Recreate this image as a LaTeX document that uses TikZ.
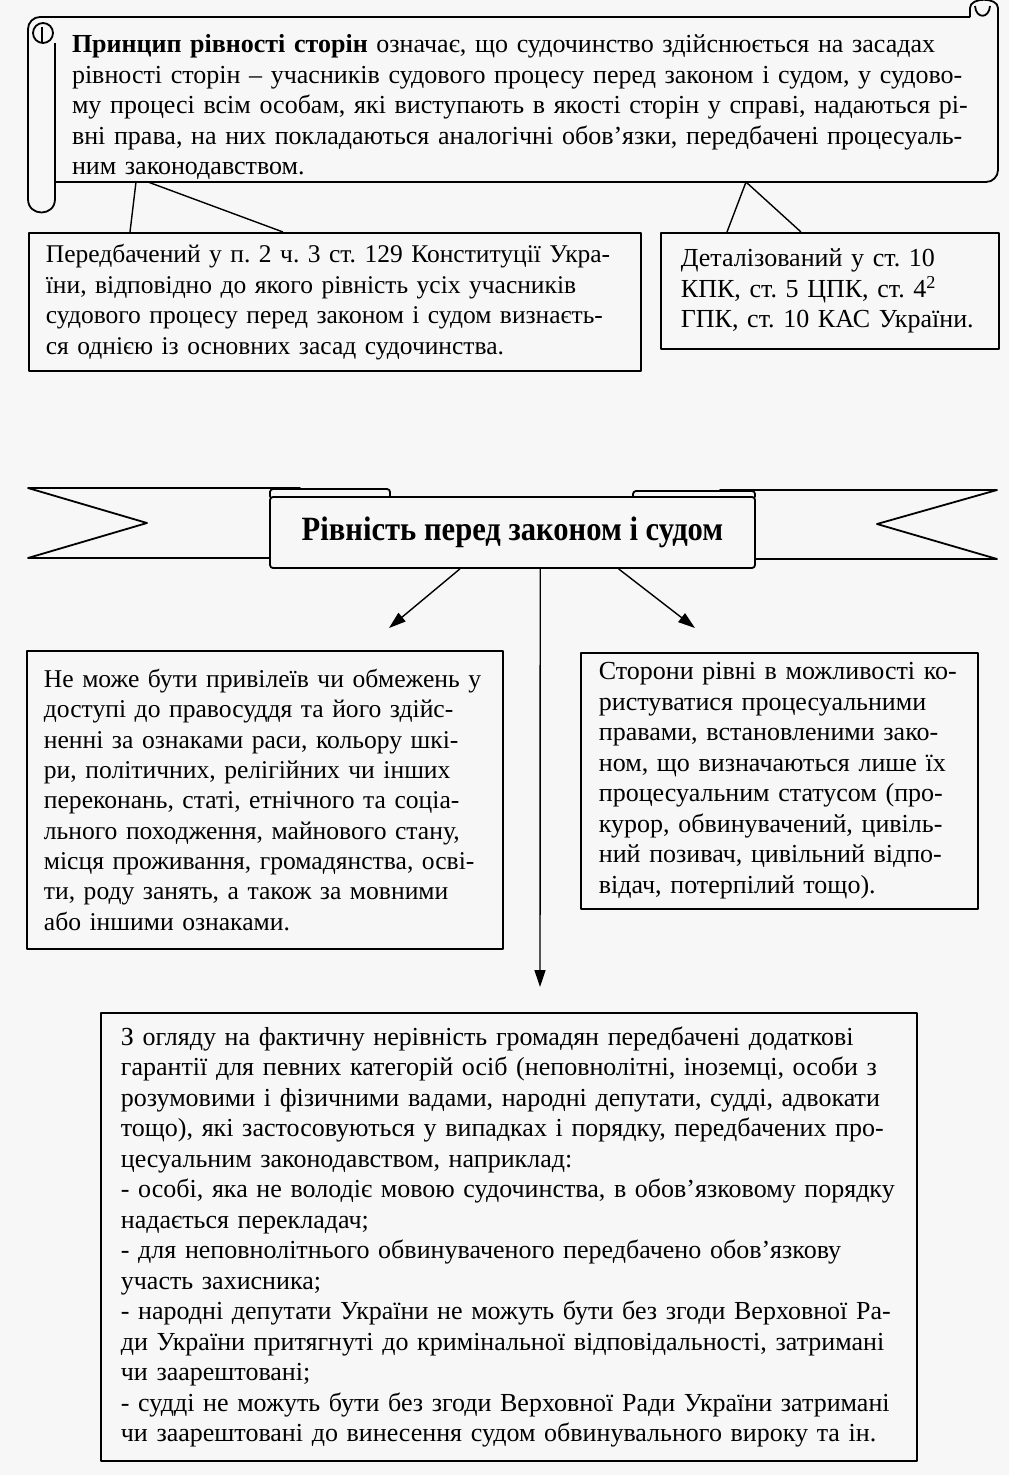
\documentclass[tikz,border=0pt]{standalone}
\usepackage{fontspec}
\setmainfont{Liberation Serif}
\newfontfamily\narrowserif[FakeStretch=0.9]{Liberation Serif}
\usetikzlibrary{arrows.meta,positioning,calc}
\definecolor{paper}{HTML}{F7F7F7}
\frenchspacing

\tikzset{
  frame/.style={draw, line width=1.8pt, line join=round},
  textbox/.style={frame, fill=paper, anchor=north west, align=left, inner ysep=0pt,
    font=\fontsize{26}{30.5}\selectfont},
  leg/.style={line width=1.4pt},
  arrow/.style={line width=1.4pt, -{Triangle[length=17pt,width=11pt]}},
}

\begin{document}
\begin{tikzpicture}[x=1pt,y=-1pt]
  \fill[paper] (0,0) rectangle (1009,1475);
  \useasboundingbox (0,0) rectangle (1009,1475);

  % scroll
  \draw[frame, rounded corners=12pt] (28,199) -- (28,17) -- (970,17);
  \draw[frame] (28,199) .. controls (28,217) and (55,217) .. (55,199) -- (55,43);
  \draw[frame] (43,33) circle (10pt);
  \draw[frame] (42,27) -- (42,43);
  \draw[frame, rounded corners=12pt] (55,182) -- (998,182) -- (998,8);
  \draw[frame] (970,17) -- (970,8) .. controls (970,-3) and (998,-3) .. (998,8);
  \draw[frame] (975,6) .. controls (976,19) and (989,19) .. (990,6);
  \node[align=left, text width=900pt, inner sep=0pt, font=\fontsize{26}{30.5}\selectfont]
    (principle) at (522,107) {%
    \textbf{Принцип рівності сторін} означає, що судочинство здійснюється на засадах\\
    рівності сторін – учасників судового процесу перед законом і судом, у судово-\\
    му процесі всім особам, які виступають в якості сторін у справі, надаються рі-\\
    вні права, на них покладаються аналогічні обов’язки, передбачені процесуаль-\\
    ним законодавством.};

  % callouts
  \node[textbox, minimum width=612pt, minimum height=138pt, inner xsep=17pt, text width=578pt,
    font=\fontsize{25.5}{30.5}\selectfont]
    (constitution) at (28,232) {%
    Передбачений у п. 2 ч. 3 ст. 129 Конституції Укра-\\
    їни, відповідно до якого рівність усіх учасників\\
    судового процесу перед законом і судом визнаєть-\\
    ся однією із основних засад судочинства.};
  \node[textbox, minimum width=338pt, minimum height=116pt, inner xsep=20pt, text width=298pt]
    (codes) at (660,232) {%
    Деталізований у ст. 10\\
    КПК, ст. 5 ЦПК, ст. 4\textsuperscript{2}\\
    ГПК, ст. 10 КАС України.};

  \coordinate (s1) at (136,182);
  \coordinate (s2) at (148,182);
  \coordinate (s3) at (746,182);
  \coordinate (c1) at (130,232);
  \coordinate (c2) at (283,232);
  \coordinate (c3) at (727,232);
  \coordinate (c4) at (801,232);
  \draw[leg] (s1) -- (c1);
  \draw[leg] (s2) -- (c2);
  \draw[leg] (c3) -- (s3) -- (c4);

  % ribbon
  \draw[frame, fill=paper] (28,488) -- (300,488) -- (300,558) -- (28,558) -- (147,523) -- cycle;
  \draw[frame, fill=paper] (997,490) -- (720,490) -- (720,559) -- (997,559) -- (877,524) -- cycle;
  \draw[frame, fill=paper, rounded corners=3pt] (270,489) rectangle (390,499);
  \draw[frame, fill=paper, rounded corners=3pt] (633,491) rectangle (755,499);
  \node[frame, fill=paper, rounded corners=3pt, minimum width=485pt, minimum height=71pt,
    font=\narrowserif\fontsize{34}{38}\selectfont\bfseries]
    (equality) at (512.5,532.5) {Рівність перед законом і судом};

  % consequences
  \node[textbox, minimum width=476pt, minimum height=298pt, inner xsep=17pt, text width=442pt,
    font=\fontsize{25.6}{30.3}\selectfont]
    (access) at (26,650) {%
    Не може бути привілеїв чи обмежень у\\
    доступі до правосуддя та його здійс-\\
    ненні за ознаками раси, кольору шкі-\\
    ри, політичних, релігійних чи інших\\
    переконань, статі, етнічного та соціа-\\
    льного походження, майнового стану,\\
    місця проживання, громадянства, осві-\\
    ти, роду занять, а також за мовними\\
    або іншими ознаками.};
  \node[textbox, minimum width=397pt, minimum height=256pt, inner xsep=18pt, text width=361pt]
    (parties) at (580,652) {%
    Сторони рівні в можливості ко-\\
    ристуватися процесуальними\\
    правами, встановленими зако-\\
    ном, що визначаються лише їх\\
    процесуальним статусом (про-\\
    курор, обвинувачений, цивіль-\\
    ний позивач, цивільний відпо-\\
    відач, потерпілий тощо).};
  \node[textbox, minimum width=816pt, minimum height=448pt, inner xsep=20pt, text width=776pt]
    (guarantees) at (100,1012) {%
    З огляду на фактичну нерівність громадян передбачені додаткові\\
    гарантії для певних категорій осіб (неповнолітні, іноземці, особи з\\
    розумовими і фізичними вадами, народні депутати, судді, адвокати\\
    тощо), які застосовуються у випадках і порядку, передбачених про-\\
    цесуальним законодавством, наприклад:\\
    - особі, яка не володіє мовою судочинства, в обов’язковому порядку\\
    надається перекладач;\\
    - для неповнолітнього обвинуваченого передбачено обов’язкову\\
    участь захисника;\\
    - народні депутати України не можуть бути без згоди Верховної Ра-\\
    ди України притягнуті до кримінальної відповідальності, затримані\\
    чи заарештовані;\\
    - судді не можуть бути без згоди Верховної Ради України затримані\\
    чи заарештовані до винесення судом обвинувального вироку та ін.};

  \coordinate (a1) at (389,628);
  \coordinate (a2) at (695,628);
  \coordinate (a3) at (540,987);
  \draw[arrow] ($(equality.south west)!0.392!(equality.south east)$) -- (a1);
  \draw[arrow] ($(equality.south west)!0.718!(equality.south east)$) -- (a2);
  \draw[arrow] ($(equality.south west)!0.557!(equality.south east)$) -- (a3);
\end{tikzpicture}
\end{document}
